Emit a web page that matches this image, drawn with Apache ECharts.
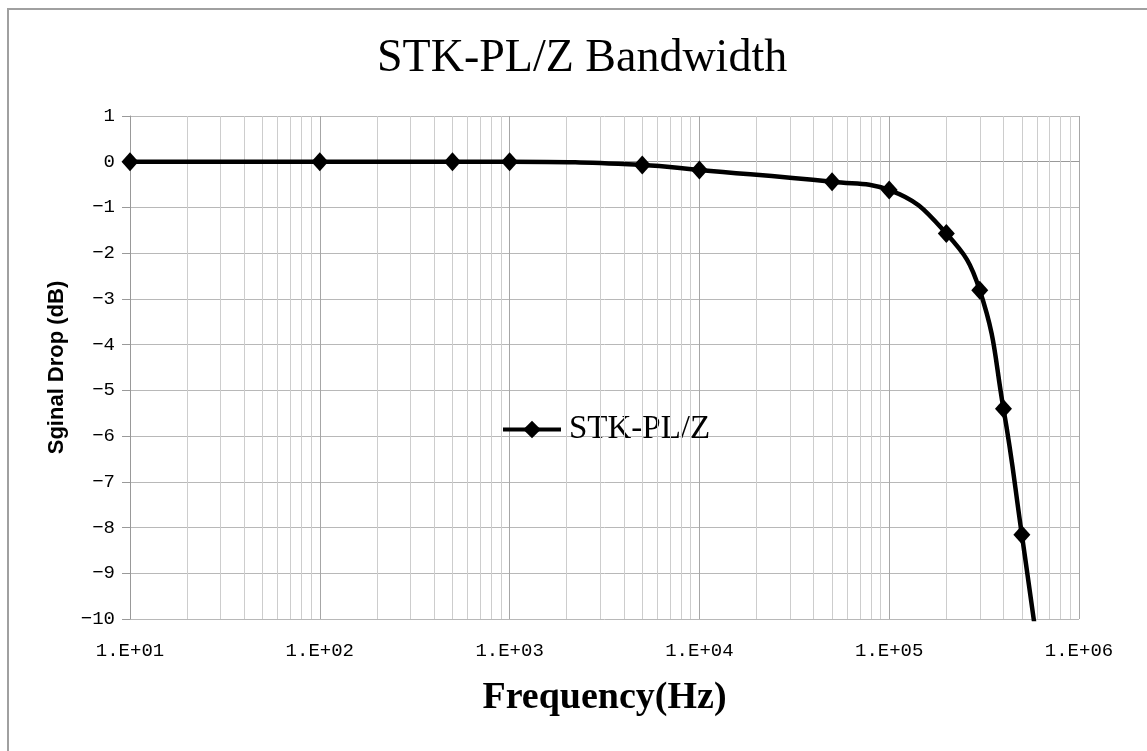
<!DOCTYPE html>
<html>
<head>
<meta charset="utf-8">
<script src="https://cdn.jsdelivr.net/npm/echarts@6/dist/echarts.min.js"></script>
<style>
html,body{margin:0;padding:0;background:#fff;}
#chart{width:1147px;height:751px;}
</style>
</head>
<body>
<div id="chart"></div>
<script>
// ---- data ----
var frequencies = [10, 100, 500, 1000, 5000, 10000, 50000, 100000, 200000, 300000, 400000, 500000, 600000];
var signalDrop  = [0, 0, 0, 0, -0.07, -0.18, -0.44, -0.62, -1.57, -2.81, -5.4, -8.16, -10.5];
var seriesName = 'STK-PL/Z';
var xTickValues = [10, 100, 1000, 10000, 100000, 1000000];
var xTickLabels = ['1.E+01', '1.E+02', '1.E+03', '1.E+04', '1.E+05', '1.E+06'];
var minorGridValues = [20,30,40,50,60,70,80,90,200,300,400,500,600,700,800,900,2000,3000,4000,5000,6000,7000,8000,9000,20000,30000,40000,50000,60000,70000,80000,90000,200000,300000,400000,500000,600000,700000,800000,900000];

var points = frequencies.map(function (f, i) { return [f, signalDrop[i]]; });

var chart = echarts.init(document.getElementById('chart'));
chart.setOption({
  animation: false,
  backgroundColor: '#fff',
  title: {
    text: 'STK-PL/Z Bandwidth',
    left: 372,
    top: 31,
    textStyle: { fontFamily: 'Liberation Serif', fontSize: 46, fontWeight: 'normal', color: '#000' }
  },
  graphic: [{
    type: 'rect',
    shape: { x: 8, y: 9, width: 1300, height: 900 },
    style: { fill: 'none', stroke: '#a0a0a0', lineWidth: 2 },
    silent: true, z: 100
  }],
  legend: {
    data: [seriesName],
    left: 496,
    top: 408,
    itemWidth: 58,
    itemHeight: 22,
    lineStyle: { width: 4, color: '#000' },
    itemStyle: { color: '#000' },
    textStyle: { fontFamily: 'Liberation Serif', fontSize: 33, color: '#000', padding: [0, 0, 0, 3] }
  },
  grid: { left: 130, right: 68, top: 116, bottom: 132, containLabel: false },
  xAxis: {
    type: 'log',
    logBase: 10,
    min: 10,
    max: 1000000,
    name: 'Frequency(Hz)',
    nameLocation: 'middle',
    nameGap: 60,
    nameTextStyle: { fontFamily: 'Liberation Serif', fontSize: 38, fontWeight: 'bold', color: '#000' },
    axisLine: { show: true, lineStyle: { color: '#999', width: 1 } },
    axisTick: { show: false },
    axisLabel: {
      margin: 22,
      fontFamily: 'Liberation Mono',
      fontSize: 19,
      color: '#000',
      formatter: function (v) {
        var i = xTickValues.indexOf(v);
        if (i < 0) { var e = Math.round(Math.log10(v)); i = xTickValues.indexOf(Math.pow(10, e)); }
        return i >= 0 ? xTickLabels[i] : '';
      }
    },
    splitLine: { show: true, lineStyle: { color: '#a6a6a6', width: 1 } }
  },
  yAxis: {
    type: 'value',
    min: -10,
    max: 1,
    interval: 1,
    name: 'Sginal Drop (dB)',
    nameLocation: 'middle',
    nameRotate: 90,
    nameGap: 62,
    nameTextStyle: { fontFamily: 'Liberation Sans', fontSize: 22, fontWeight: 'bold', color: '#000' },
    axisLine: { show: true, lineStyle: { color: '#999', width: 1 } },
    axisTick: { show: true, inside: false, length: 8, lineStyle: { color: '#999' } },
    axisLabel: {
      margin: 15,
      fontFamily: 'Liberation Mono',
      fontSize: 19,
      color: '#000',
      formatter: function (v) { return String(v).replace('-', '\u2212'); }
    },
    splitLine: { show: true, lineStyle: { color: '#b8b8b8', width: 1 } }
  },
  series: [
    {
      name: 'minor',
      type: 'line',
      data: [],
      z: 1,
      silent: true,
      markLine: {
        silent: true,
        symbol: ['none', 'none'],
        label: { show: false },
        lineStyle: { color: '#cdcdcd', width: 1, type: 'solid' },
        emphasis: { disabled: true },
        data: minorGridValues.map(function (v) { return { xAxis: v }; })
      }
    },
    {
      name: seriesName,
      type: 'line',
      data: points,
      z: 5,
      smooth: 0.45,
      clip: true,
      symbol: 'diamond',
      symbolSize: [17, 19],
      itemStyle: { color: '#000' },
      lineStyle: { color: '#000', width: 4.5 }
    }
  ]
});
</script>
</body>
</html>
